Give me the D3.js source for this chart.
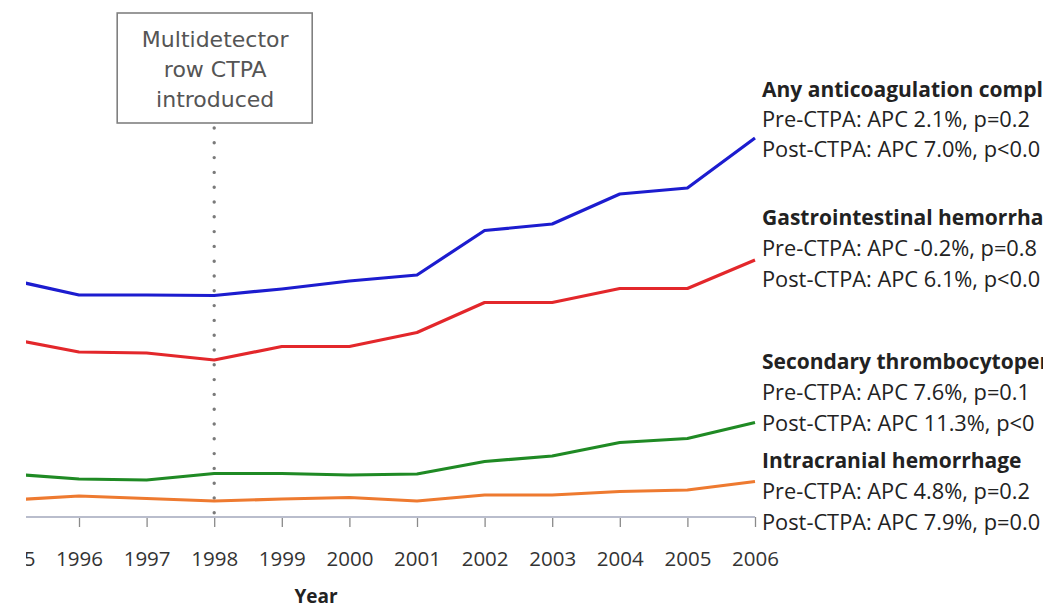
<!DOCTYPE html>
<html>
<head>
<meta charset="utf-8">
<script src="https://cdn.jsdelivr.net/npm/d3@7"></script>
<style>
  body { margin: 0; background: #fff; }
  svg { display: block; }
</style>
</head>
<body>
<div id="chart"></div>
<script>
// years on the x axis
const years = [1995, 1996, 1997, 1998, 1999, 2000, 2001, 2002, 2003, 2004, 2005, 2006];

// rates (no y axis is shown)
const anyAnticoag = [47.4, 44.4, 44.4, 44.3, 45.6, 47.2, 48.4, 57.3, 58.6, 64.6, 65.8, 75.8];
const giHemorrhage = [35.6, 33.0, 32.8, 31.4, 34.1, 34.1, 36.9, 42.9, 42.9, 45.7, 45.7, 51.4];
const thrombocytopenia = [8.6, 7.6, 7.4, 8.7, 8.7, 8.4, 8.6, 11.1, 12.2, 14.9, 15.7, 18.9];
const intracranial = [3.4, 4.2, 3.7, 3.2, 3.6, 3.9, 3.2, 4.4, 4.4, 5.1, 5.4, 7.1];

const seriesNames = ["Any anticoagulation complication", "Gastrointestinal hemorrhage",
  "Secondary thrombocytopenia", "Intracranial hemorrhage"];
const preText = ["Pre-CTPA: APC 2.1%, p=0.2", "Pre-CTPA: APC -0.2%, p=0.8",
  "Pre-CTPA: APC 7.6%, p=0.1", "Pre-CTPA: APC 4.8%, p=0.2"];
const postText = ["Post-CTPA: APC 7.0%, p<0.0", "Post-CTPA: APC 6.1%, p<0.0",
  "Post-CTPA: APC 11.3%, p<0", "Post-CTPA: APC 7.9%, p=0.0"];
const colors = ["#1c1ccf", "#e3272b", "#1f8a24", "#ee7a30"];

const introYear = 1998;
const boxLines = ["Multidetector", "row CTPA", "introduced"];

const width = 1043, height = 609;

const svg = d3.select("#chart").append("svg")
    .attr("width", width)
    .attr("height", height)
    .style("font-family", "'Open Sans', sans-serif");

// left part of the original figure is cropped away
svg.append("clipPath").attr("id", "crop")
  .append("rect").attr("x", 26).attr("y", 0).attr("width", width - 26).attr("height", height);

const g = svg.append("g").attr("clip-path", "url(#crop)");

const x = d3.scaleLinear().domain([1996, 2006]).range([79, 755]);
const y = d3.scaleLinear().domain([0, 100]).range([517, 17]);

// x axis
const axis = g.append("g")
    .attr("transform", "translate(0,517)")
    .call(d3.axisBottom(x).tickValues(years).tickFormat(d3.format("d")).tickSize(10).tickPadding(24));
axis.select(".domain").remove();
axis.append("line")
    .attr("x1", 26).attr("x2", x(2006))
    .attr("stroke", "#b9bdcc").attr("stroke-width", 2);
axis.selectAll(".tick line").attr("stroke", "#8a8a8a").attr("stroke-width", 1.3);
axis.selectAll(".tick text")
    .attr("fill", "#333")
    .style("font-family", "'Open Sans', sans-serif")
    .style("font-size", "20.5px");

svg.append("text")
    .attr("x", 316).attr("y", 603)
    .attr("text-anchor", "middle")
    .attr("fill", "#222")
    .style("font-weight", "bold")
    .style("font-size", "19px")
    .text("Year");

// dotted marker line for CTPA introduction
g.append("line")
    .attr("x1", x(introYear)).attr("x2", x(introYear))
    .attr("y1", 128).attr("y2", 513)
    .attr("stroke", "#7a7a7a")
    .attr("stroke-width", 3.4)
    .attr("stroke-linecap", "round")
    .attr("stroke-dasharray", "0 14.8");

g.append("rect")
    .attr("x", x(introYear) - 97).attr("y", 13)
    .attr("width", 195).attr("height", 110)
    .attr("fill", "#fff")
    .attr("stroke", "#808080")
    .attr("stroke-width", 1.6);

g.selectAll(".boxline")
    .data(boxLines)
    .join("text")
    .attr("class", "boxline")
    .attr("x", x(introYear) + 1)
    .attr("y", (d, i) => 47 + i * 30)
    .attr("text-anchor", "middle")
    .attr("fill", "#555")
    .style("font-family", "'DejaVu Sans', sans-serif")
    .style("font-size", "22px")
    .text(d => d);

// series lines
const allSeries = [anyAnticoag, giHemorrhage, thrombocytopenia, intracranial];
const line = d3.line()
    .x((d, i) => x(years[i]))
    .y(d => y(d));

g.selectAll(".series")
    .data(allSeries)
    .join("path")
    .attr("class", "series")
    .attr("d", line)
    .attr("fill", "none")
    .attr("stroke", (d, i) => colors[i])
    .attr("stroke-width", 3.2)
    .attr("stroke-linejoin", "round");

// labels on the right
const labelTop = [97, 225, 369, 468];
const labelGap = [30, 31, 31, 31];
const labels = svg.append("g").attr("fill", "#222").style("font-size", "21.8px");

labelTop.forEach((top, i) => {
    labels.append("text").attr("x", 762).attr("y", top)
        .style("font-weight", "bold").style("font-size", "21px").text(seriesNames[i]);
    labels.append("text").attr("x", 762).attr("y", top + labelGap[i]).text(preText[i]);
    labels.append("text").attr("x", 762).attr("y", top + labelGap[i] * 2).text(postText[i]);
});
</script>
</body>
</html>
